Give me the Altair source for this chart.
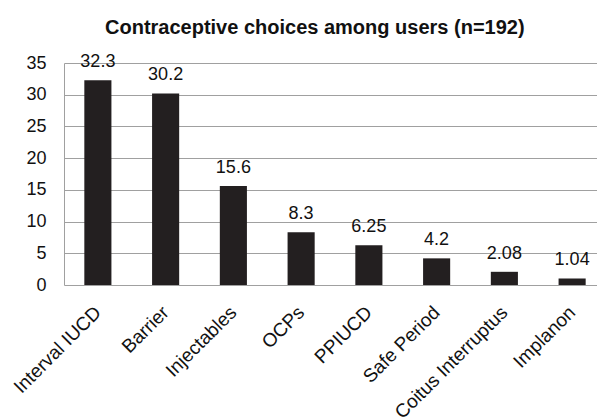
import altair as alt
import pandas as pd

categories = ["Interval IUCD", "Barrier", "Injectables", "OCPs", "PPIUCD",
              "Safe Period", "Coitus Interruptus", "Implanon"]
values = [32.3, 30.2, 15.6, 8.3, 6.25, 4.2, 2.08, 1.04]
labels = ["32.3", "30.2", "15.6", "8.3", "6.25", "4.2", "2.08", "1.04"]
y_ticks = [0, 5, 10, 15, 20, 25, 30, 35]

df = pd.DataFrame({"method": categories, "pct": values, "label": labels})

FONT = "Liberation Sans"

x_enc = alt.X(
    "method:N",
    sort=categories,
    scale=alt.Scale(range=[0, 542], paddingInner=0.6, paddingOuter=0.3),
    axis=alt.Axis(
        title=None, ticks=False, domain=False, labelAngle=-45,
        labelAlign="right", labelBaseline="middle", labelPadding=24,
        labelFontSize=19, labelFont=FONT, labelColor="#111111",
        labelOverlap=False, labelLimit=0,
    ),
)
y_enc = alt.Y(
    "pct:Q",
    scale=alt.Scale(domain=[0, 35], nice=False),
    axis=alt.Axis(
        title=None, values=y_ticks, ticks=False, domain=True,
        domainColor="#a0a0a0", domainWidth=1, grid=True,
        gridColor="#a0a0a0", gridWidth=1, labelPadding=18,
        labelFontSize=18, labelFont=FONT, labelColor="#111111",
        labelOverlap=False,
    ),
)

base = alt.Chart(df).encode(x=x_enc, y=y_enc)

bars = base.mark_bar(color="#231f20")

text = base.mark_text(
    baseline="alphabetic", align="center", dy=-13, fontSize=18,
    font=FONT, color="#111111",
).encode(text="label:N")

chart = (bars + text).properties(
    width=533,
    height=222,
    autosize=alt.AutoSizeParams(type="none"),
    padding={"left": 64, "top": 63, "right": 0, "bottom": 133},
    background="white",
    title=alt.TitleParams(
        "Contraceptive choices among users (n=192)",
        font=FONT, fontSize=20, fontWeight="bold", color="#111111",
        anchor="start", frame="group", dx=41, dy=5, offset=4,
        baseline="alphabetic",
    ),
).configure_view(stroke=None)

chart.save("out.html", embed_options={"renderer": "svg", "actions": False})
